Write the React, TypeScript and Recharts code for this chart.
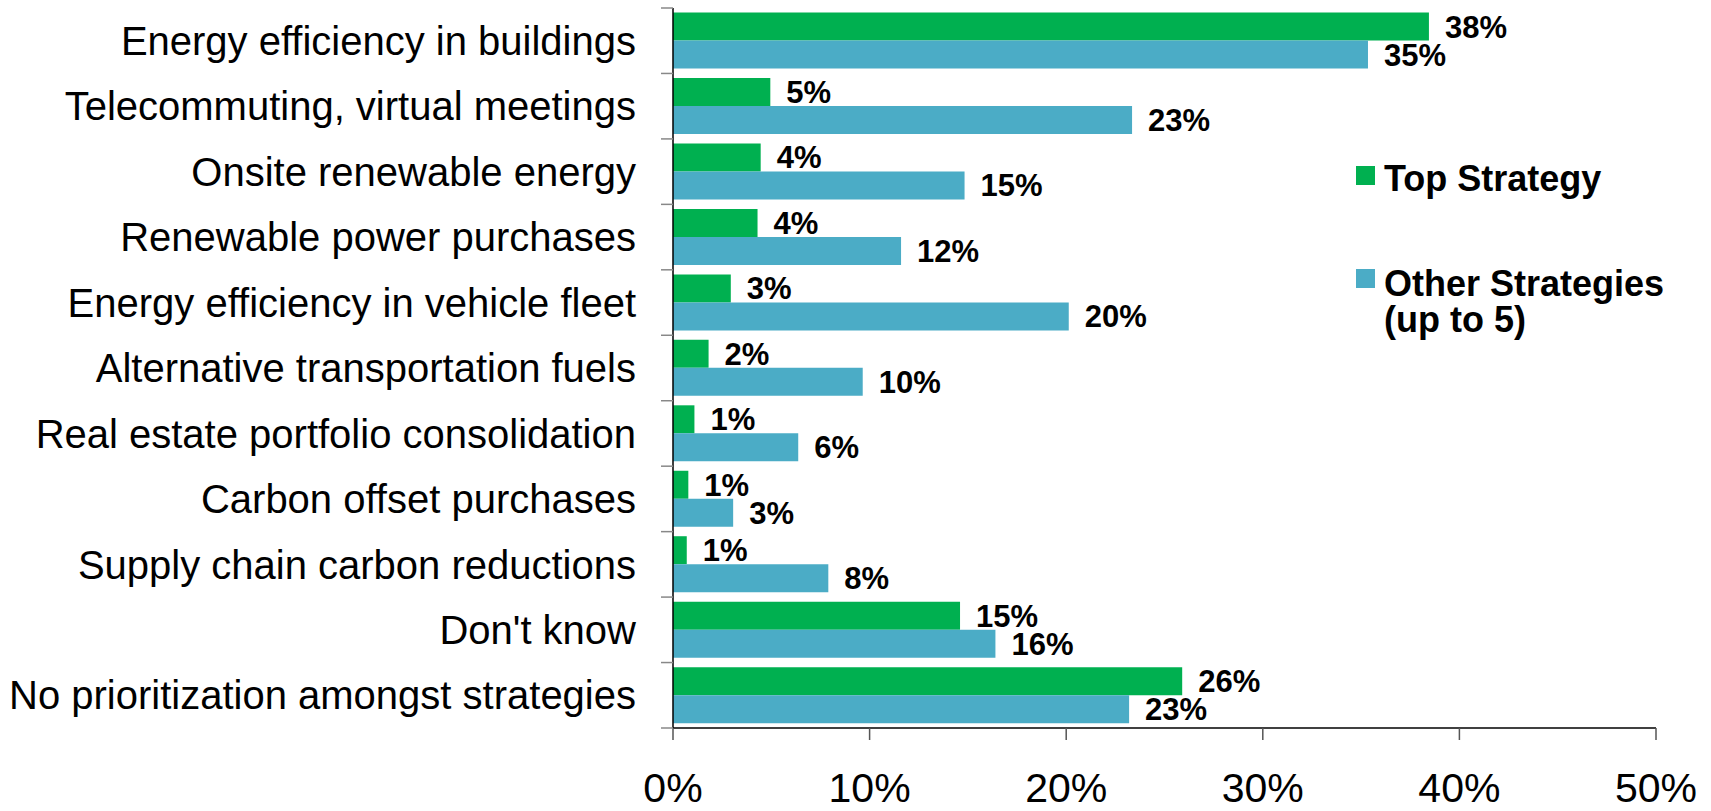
import React from 'react';
import { BarChart, Bar, XAxis, YAxis, Legend, LabelList } from 'recharts';

const categories = [
  'Energy efficiency in buildings',
  'Telecommuting, virtual meetings',
  'Onsite renewable energy',
  'Renewable power purchases',
  'Energy efficiency in vehicle fleet',
  'Alternative transportation fuels',
  'Real estate portfolio consolidation',
  'Carbon offset purchases',
  'Supply chain carbon reductions',
  "Don't know",
  'No prioritization amongst strategies',
];

const topStrategy = [38.45, 4.95, 4.46, 4.3, 2.94, 1.81, 1.09, 0.78, 0.7, 14.6, 25.9];
const otherStrategies = [35.35, 23.35, 14.83, 11.6, 20.13, 9.65, 6.37, 3.06, 7.9, 16.4, 23.2];

const seriesOrder = ['top', 'other'];
const xTicks = [0, 10, 20, 30, 40, 50];

const GREEN = '#00B050';
const BLUE = '#4BACC6';
const FONT = '"Liberation Sans", Arial, Helvetica, sans-serif';

const CHART_W = 1711;
const CHART_H = 811;
const MARGIN = { top: 8, right: 55, bottom: 0, left: 0 };
const X_AXIS_H = 83;
const BAND = (CHART_H - MARGIN.top - MARGIN.bottom - X_AXIS_H) / categories.length;

const data = categories.map((name, i) => ({
  name,
  top: topStrategy[i],
  other: otherStrategies[i],
}));

const pct = (v: number) => `${Math.round(v)}%`;

// category label plus Excel-style tick marks on the band edges
const CategoryTick = (props: any) => {
  const { x, y, payload, index } = props;
  const axisX = x + 37;
  const last = index === categories.length - 1;
  return (
    <g>
      <line x1={axisX - 12} x2={axisX} y1={y - BAND / 2} y2={y - BAND / 2} stroke="#888" strokeWidth={1.5} />
      {last && (
        <line x1={axisX - 12} x2={axisX} y1={y + BAND / 2} y2={y + BAND / 2} stroke="#888" strokeWidth={1.5} />
      )}
      <text x={x} y={y} dy="0.355em" textAnchor="end" fill="#000" fontSize={40} fontFamily={FONT}>
        {payload.value}
      </text>
    </g>
  );
};

const LegendBox = ({ payload }: any) => {
  const items = [...(payload || [])].sort(
    (a: any, b: any) => seriesOrder.indexOf(a.dataKey) - seriesOrder.indexOf(b.dataKey)
  );
  return (
    <div style={{ fontFamily: FONT, fontWeight: 'bold', fontSize: 36, lineHeight: '36px', color: '#000' }}>
      {items.map((entry: any, i: number) => (
        <div key={`leg-${i}`} style={{ display: 'flex', alignItems: 'flex-start', marginBottom: i === 0 ? 69 : 0 }}>
          <div style={{ width: 19, height: 19, background: entry.color, marginTop: i === 0 ? 5 : 3, marginRight: 9, flexShrink: 0 }} />
          <div style={{ width: 310 }}>{entry.value}</div>
        </div>
      ))}
    </div>
  );
};

const App: React.FC = () => {
  return (
    <div style={{ position: 'fixed', left: 0, top: 0, width: CHART_W, height: CHART_H, background: '#fff' }}>
      <BarChart
        width={CHART_W}
        height={CHART_H}
        data={data}
        layout="vertical"
        margin={MARGIN}
        barCategoryGap="7%"
        barGap={0}
      >
        <YAxis
          type="category"
          dataKey="name"
          width={673}
          tickLine={false}
          tickSize={12}
          axisLine={{ stroke: '#000', strokeWidth: 1.5 }}
          tickMargin={25}
          tick={<CategoryTick />}
          interval={0}
        />
        <XAxis
          type="number"
          domain={[0, 50]}
          ticks={xTicks}
          tickFormatter={(v: number) => `${v}%`}
          height={X_AXIS_H}
          tickSize={12}
          tickMargin={33}
          axisLine={{ stroke: '#000', strokeWidth: 1.5 }}
          tickLine={{ stroke: '#555', strokeWidth: 1.5 }}
          tick={{ fontSize: 41, fill: '#000', fontFamily: FONT }}
        />
        <Legend
          layout="vertical"
          align="center"
          verticalAlign="middle"
          wrapperStyle={{ position: 'absolute', left: 1356, top: 161, width: 355 }}
          content={<LegendBox />}
        />
        <Bar dataKey="top" name="Top Strategy" fill={GREEN} isAnimationActive={false}>
          <LabelList
            dataKey="top"
            position="right"
            offset={16}
            formatter={(v: any) => pct(Number(v))}
            style={{ fontSize: 31, fontWeight: 'bold', fill: '#000', fontFamily: FONT }}
          />
        </Bar>
        <Bar dataKey="other" name="Other Strategies (up to 5)" fill={BLUE} isAnimationActive={false}>
          <LabelList
            dataKey="other"
            position="right"
            offset={16}
            formatter={(v: any) => pct(Number(v))}
            style={{ fontSize: 31, fontWeight: 'bold', fill: '#000', fontFamily: FONT }}
          />
        </Bar>
      </BarChart>
    </div>
  );
};

export default App;
